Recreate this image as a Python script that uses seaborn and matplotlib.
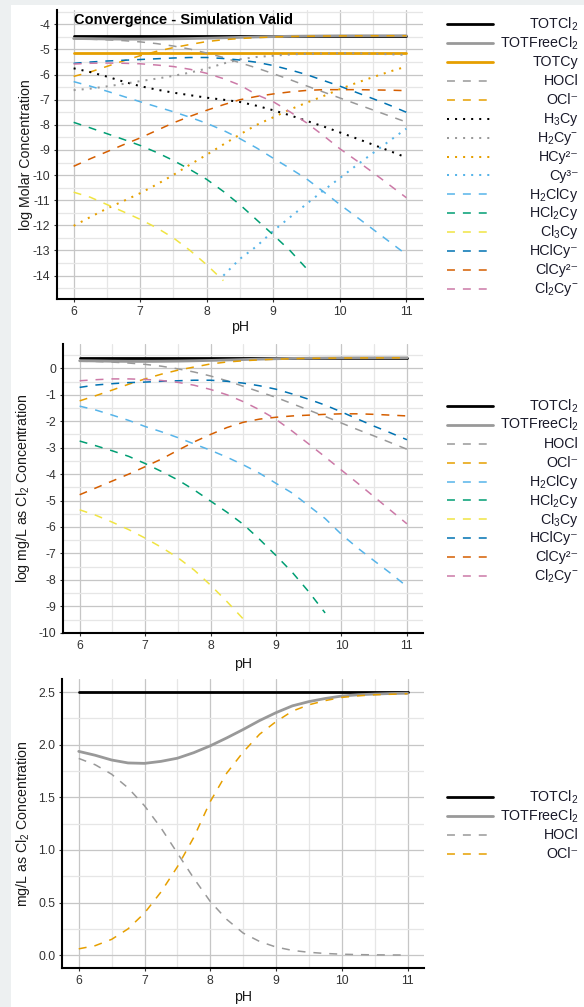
import numpy as np
import pandas as pd
import matplotlib
matplotlib.use("Agg")
import matplotlib.pyplot as plt
from matplotlib.patches import Rectangle
from matplotlib.ticker import MultipleLocator, FormatStrFormatter
import seaborn as sns

nan = np.nan

# pH grid shared by every series
ph = [6.0, 6.25, 6.5, 6.75, 7.0, 7.25, 7.5, 7.75, 8.0, 8.25, 8.5,
      8.75, 9.0, 9.25, 9.5, 9.75, 10.0, 10.25, 10.5, 10.75, 11.0]

# ---- panel 1 : log molar concentration ----
tot_cl2_M = [-4.45, -4.45, -4.45, -4.45, -4.45, -4.45, -4.45, -4.45, -4.45, -4.45, -4.45,
             -4.45, -4.45, -4.45, -4.45, -4.45, -4.45, -4.45, -4.45, -4.45, -4.45]
tot_free_M = [-4.564, -4.572, -4.582, -4.589, -4.590, -4.585, -4.578, -4.566, -4.552, -4.536, -4.519,
              -4.502, -4.488, -4.476, -4.469, -4.463, -4.459, -4.457, -4.456, -4.455, -4.454]
tot_cy_M = [-5.13, -5.13, -5.13, -5.13, -5.13, -5.13, -5.13, -5.13, -5.13, -5.13, -5.13,
            -5.13, -5.13, -5.13, -5.13, -5.13, -5.13, -5.13, -5.13, -5.13, -5.13]
hocl_M = [-4.579, -4.593, -4.615, -4.649, -4.698, -4.768, -4.864, -4.987, -5.143, -5.319, -5.529,
          -5.737, -5.964, -6.2, -6.45, -6.69, -6.93, -7.17, -7.41, -7.65, -7.89]
ocl_M = [-6.073, -5.897, -5.675, -5.453, -5.249, -5.073, -4.926, -4.801, -4.686, -4.613, -4.565,
         -4.529, -4.504, -4.485, -4.474, -4.467, -4.461, -4.459, -4.457, -4.456, -4.455]
h3cy_M = [-5.75, -5.9, -6.08, -6.28, -6.46, -6.6, -6.72, -6.82, -6.92, -7.0, -7.09,
          -7.24, -7.42, -7.62, -7.84, -8.06, -8.3, -8.54, -8.79, -9.04, -9.3]
h2cy_M = [-6.62, -6.56, -6.47, -6.37, -6.26, -6.16, -6.05, -5.92, -5.76, -5.56, -5.39,
          -5.3, -5.25, -5.2, -5.17, -5.16, -5.15, -5.15, -5.17, -5.19, -5.22]
hcy_M = [-12.02, -11.67, -11.33, -11.03, -10.72, -10.37, -9.99, -9.58, -9.19, -8.78, -8.38,
         -8.0, -7.7, -7.39, -7.12, -6.86, -6.58, -6.33, -6.1, -5.88, -5.68]
cy_M = [nan, nan, nan, nan, nan, nan, nan, nan, nan, -14.0, -13.33,
        -12.83, -12.22, -11.68, -11.15, -10.62, -10.12, -9.61, -9.12, -8.63, -8.15]
h2clcy_M = [-6.28, -6.46, -6.66, -6.87, -7.08, -7.28, -7.48, -7.7, -7.94, -8.22, -8.55,
            -8.92, -9.33, -9.73, -10.15, -10.65, -11.17, -11.66, -12.16, -12.66, -13.16]
hcl2cy_M = [-7.9, -8.12, -8.35, -8.58, -8.82, -9.1, -9.42, -9.78, -10.17, -10.65, -11.18,
            -11.78, -12.38, -13.0, -13.72, nan, nan, nan, nan, nan, nan]
cl3cy_M = [-10.68, -10.88, -11.17, -11.46, -11.76, -12.1, -12.5, -13.0, -13.57, -14.2, nan,
           nan, nan, nan, nan, nan, nan, nan, nan, nan, nan]
hclcy_M = [-5.55, -5.5, -5.46, -5.43, -5.4, -5.37, -5.34, -5.32, -5.32, -5.36, -5.42,
           -5.51, -5.64, -5.81, -6.0, -6.23, -6.46, -6.71, -6.96, -7.22, -7.5]
clcy_M = [-9.65, -9.35, -9.07, -8.79, -8.52, -8.22, -7.92, -7.66, -7.42, -7.2, -7.0,
          -6.87, -6.77, -6.69, -6.63, -6.6, -6.6, -6.6, -6.61, -6.62, -6.64]
cl2cy_M = [-5.58, -5.55, -5.54, -5.55, -5.57, -5.62, -5.68, -5.79, -5.95, -6.16, -6.42,
           -6.8, -7.08, -7.48, -7.92, -8.42, -8.95, -9.42, -9.9, -10.4, -10.9]

# ---- panel 2 : log mg/L as Cl2 ----
tot_cl2_L = [0.4, 0.4, 0.4, 0.4, 0.4, 0.4, 0.4, 0.4, 0.4, 0.4, 0.4,
             0.4, 0.4, 0.4, 0.4, 0.4, 0.4, 0.4, 0.4, 0.4, 0.4]
tot_free_L = [0.287, 0.279, 0.268, 0.262, 0.261, 0.265, 0.272, 0.284, 0.299, 0.315, 0.331,
              0.348, 0.363, 0.375, 0.382, 0.387, 0.392, 0.394, 0.395, 0.396, 0.396]
hocl_L = [0.27, 0.26, 0.235, 0.2, 0.15, 0.08, -0.02, -0.14, -0.29, -0.47, -0.68,
          -0.89, -1.1, -1.34, -1.58, -1.82, -2.07, -2.32, -2.56, -2.81, -3.06]
ocl_L = [-1.23, -1.03, -0.82, -0.6, -0.4, -0.22, -0.07, 0.05, 0.165, 0.24, 0.285,
         0.32, 0.346, 0.365, 0.377, 0.384, 0.389, 0.392, 0.394, 0.395, 0.396]
h2clcy_L = [-1.43, -1.58, -1.77, -1.97, -2.2, -2.4, -2.62, -2.86, -3.1, -3.36, -3.65,
            -3.97, -4.35, -4.72, -5.2, -5.68, -6.28, -6.8, -7.28, -7.75, -8.25]
hcl2cy_L = [-2.75, -2.93, -3.12, -3.33, -3.6, -3.9, -4.22, -4.6, -5.02, -5.44, -5.9,
            -6.47, -7.08, -7.72, -8.45, -9.25, nan, nan, nan, nan, nan]
cl3cy_L = [-5.35, -5.56, -5.82, -6.1, -6.42, -6.77, -7.16, -7.63, -8.2, -8.82, -9.48,
           nan, nan, nan, nan, nan, nan, nan, nan, nan, nan]
hclcy_L = [-0.72, -0.63, -0.58, -0.54, -0.52, -0.49, -0.47, -0.45, -0.45, -0.49, -0.56,
           -0.66, -0.79, -0.97, -1.17, -1.39, -1.65, -1.92, -2.19, -2.44, -2.7]
clcy_L = [-4.78, -4.52, -4.26, -4.0, -3.72, -3.43, -3.1, -2.78, -2.5, -2.24, -2.04,
          -1.92, -1.85, -1.8, -1.77, -1.74, -1.72, -1.72, -1.74, -1.77, -1.8]
cl2cy_L = [-0.47, -0.43, -0.4, -0.4, -0.42, -0.46, -0.53, -0.64, -0.8, -1.0, -1.26,
           -1.57, -1.93, -2.38, -2.86, -3.35, -3.85, -4.35, -4.86, -5.37, -5.88]

# ---- panel 3 : mg/L as Cl2 ----
tot_cl2_mg = [2.5, 2.5, 2.5, 2.5, 2.5, 2.5, 2.5, 2.5, 2.5, 2.5, 2.5,
              2.5, 2.5, 2.5, 2.5, 2.5, 2.5, 2.5, 2.5, 2.5, 2.5]
tot_free_mg = [1.937, 1.90, 1.855, 1.827, 1.823, 1.842, 1.872, 1.925, 1.99, 2.065, 2.145,
               2.23, 2.305, 2.37, 2.41, 2.44, 2.463, 2.475, 2.482, 2.487, 2.49]
hocl_mg = [1.87, 1.81, 1.72, 1.59, 1.42, 1.21, 0.97, 0.73, 0.51, 0.34, 0.21,
           0.13, 0.077, 0.045, 0.027, 0.016, 0.009, 0.005, 0.003, 0.0017, 0.001]
ocl_mg = [0.06, 0.09, 0.15, 0.25, 0.40, 0.60, 0.84, 1.12, 1.46, 1.73, 1.93,
          2.10, 2.22, 2.32, 2.38, 2.42, 2.45, 2.465, 2.475, 2.48, 2.485]

# ---- species styling ----
labels = {
    "TOTCl2": r"TOTCl$_2$", "TOTFreeCl2": r"TOTFreeCl$_2$", "TOTCy": "TOTCy",
    "HOCl": "HOCl", "OCl-": "OCl\u207b", "H3Cy": r"H$_3$Cy", "H2Cy-": r"H$_2$Cy$^{-}$",
    "HCy2-": "HCy\u00b2\u207b", "Cy3-": "Cy\u00b3\u207b", "H2ClCy": r"H$_2$ClCy",
    "HCl2Cy": r"HCl$_2$Cy", "Cl3Cy": r"Cl$_3$Cy", "HClCy-": "HClCy\u207b",
    "ClCy2-": "ClCy\u00b2\u207b", "Cl2Cy-": r"Cl$_2$Cy$^{-}$",
}
colors = {
    "TOTCl2": "#000000", "TOTFreeCl2": "#999999", "TOTCy": "#E69F00",
    "HOCl": "#999999", "OCl-": "#E69F00", "H3Cy": "#000000", "H2Cy-": "#999999",
    "HCy2-": "#E69F00", "Cy3-": "#56B4E9", "H2ClCy": "#56B4E9", "HCl2Cy": "#009E73",
    "Cl3Cy": "#F0E442", "HClCy-": "#0072B2", "ClCy2-": "#D55E00", "Cl2Cy-": "#CC79A7",
}
kind = {
    "TOTCl2": "solid", "TOTFreeCl2": "solid", "TOTCy": "solid",
    "HOCl": "dashed", "OCl-": "dashed", "H3Cy": "dotted", "H2Cy-": "dotted",
    "HCy2-": "dotted", "Cy3-": "dotted", "H2ClCy": "dashed", "HCl2Cy": "dashed",
    "Cl3Cy": "dashed", "HClCy-": "dashed", "ClCy2-": "dashed", "Cl2Cy-": "dashed",
}
dash_of = {"solid": "", "dashed": (5.2, 5.2), "dotted": (1, 3)}
width_of = {"solid": 2.0, "dashed": 1.1, "dotted": 1.45}

panel1 = {"TOTCl2": tot_cl2_M, "TOTFreeCl2": tot_free_M, "TOTCy": tot_cy_M,
          "HOCl": hocl_M, "OCl-": ocl_M, "H3Cy": h3cy_M, "H2Cy-": h2cy_M,
          "HCy2-": hcy_M, "Cy3-": cy_M, "H2ClCy": h2clcy_M, "HCl2Cy": hcl2cy_M,
          "Cl3Cy": cl3cy_M, "HClCy-": hclcy_M, "ClCy2-": clcy_M, "Cl2Cy-": cl2cy_M}
panel2 = {"TOTCl2": tot_cl2_L, "TOTFreeCl2": tot_free_L, "HOCl": hocl_L, "OCl-": ocl_L,
          "H2ClCy": h2clcy_L, "HCl2Cy": hcl2cy_L, "Cl3Cy": cl3cy_L,
          "HClCy-": hclcy_L, "ClCy2-": clcy_L, "Cl2Cy-": cl2cy_L}
panel3 = {"TOTCl2": tot_cl2_mg, "TOTFreeCl2": tot_free_mg, "HOCl": hocl_mg, "OCl-": ocl_mg}

# ---- theme ----
sns.set_style("whitegrid")
plt.rcParams["font.family"] = ["Liberation Sans", "DejaVu Sans"]
plt.rcParams["mathtext.fontset"] = "custom"
plt.rcParams["mathtext.rm"] = "Liberation Sans"
plt.rcParams["mathtext.it"] = "Liberation Sans:italic"
plt.rcParams["mathtext.bf"] = "Liberation Sans:bold"
plt.rcParams["mathtext.default"] = "regular"
plt.rcParams["axes.unicode_minus"] = False

W, H = 584, 1007
fig = plt.figure(figsize=(W / 100, H / 100), dpi=100, facecolor="#edf0f1")
fig.add_artist(Rectangle((11 / W, 0), 1 - 11 / W, 1 - 5 / H, transform=fig.transFigure,
                         facecolor="white", edgecolor="none", zorder=-10))

LEG_FS = 10.3


def px_axes(left, top, right, bottom):
    return fig.add_axes([left / W, 1 - bottom / H, (right - left) / W, (bottom - top) / H])


def draw_panel(ax, series, ylim, ystep, yfmt, ylabel, ylab_x, xlab_y, leg_top):
    names = list(series.keys())
    df = pd.DataFrame({"pH": ph, **series})
    long = df.melt(id_vars="pH", var_name="species", value_name="value")
    sns.lineplot(data=long, x="pH", y="value", hue="species", style="species", size="species",
                 hue_order=names, style_order=names, size_order=names,
                 palette={n: colors[n] for n in names},
                 dashes={n: dash_of[kind[n]] for n in names},
                 sizes={n: width_of[kind[n]] for n in names},
                 estimator=None, errorbar=None, legend=False, ax=ax)
    ax.set_xlim(5.75, 11.25)
    ax.set_ylim(*ylim)
    ax.xaxis.set_major_locator(MultipleLocator(1))
    ax.xaxis.set_minor_locator(MultipleLocator(0.5))
    ax.xaxis.set_major_formatter(FormatStrFormatter("%d"))
    ax.yaxis.set_major_locator(MultipleLocator(ystep))
    ax.yaxis.set_minor_locator(MultipleLocator(ystep / 2))
    ax.yaxis.set_major_formatter(FormatStrFormatter(yfmt))
    ax.set_axisbelow(True)
    ax.grid(True, which="major", color="#c6c6c6", linewidth=0.9)
    ax.grid(True, which="minor", color="#e6e6e6", linewidth=0.9)
    for s in ["top", "right"]:
        ax.spines[s].set_visible(False)
    for s in ["left", "bottom"]:
        ax.spines[s].set_color("black")
        ax.spines[s].set_linewidth(1.5)
    ax.tick_params(which="major", length=2.5, width=0.8, color="#333333",
                   labelsize=8.8, labelcolor="#333333", pad=2.5,
                   left=True, bottom=True)
    ax.tick_params(which="minor", length=0)
    ax.set_xlabel("pH", fontsize=10.2, color="#1a1a1a")
    ax.set_ylabel(ylabel, fontsize=10.2, color="#1a1a1a")
    ax.xaxis.set_label_coords(0.5, xlab_y)
    ax.yaxis.set_label_coords(ylab_x, 0.5)
    # tall handle boxes with negative spacing give an even row pitch of ~18.9 px
    leg = ax.legend(handles=list(ax.get_lines()), labels=[labels[n] for n in names],
                    loc="upper left", bbox_to_anchor=(447 / W, 1 - leg_top / H),
                    bbox_transform=fig.transFigure, frameon=False, fontsize=LEG_FS,
                    handlelength=3.21, handleheight=2.2, handletextpad=0.5,
                    labelspacing=-0.354, borderpad=0, borderaxespad=0,
                    labelcolor="#1a1a2a")
    # bring the key lines down to the middle of the label text
    for ln in leg.get_lines():
        ln.set_ydata(np.asarray(ln.get_ydata()) - 2.9)
    return leg


ax1 = px_axes(57, 10, 423, 299)
leg1 = draw_panel(ax1, panel1, (-14.93, -3.43), 1, "%g", "log Molar Concentration",
                  -0.0669, -0.073, 12.0)
ax1.text(6.0, -3.81, "Convergence - Simulation Valid", fontsize=10.5, fontweight="bold",
         ha="left", va="center", color="black")

ax2 = px_axes(63.3, 344, 423.3, 633.3)
leg2 = draw_panel(ax2, panel2, (-10.02, 0.92), 1, "%g", r"log mg/L as Cl$_2$ Concentration",
                  -0.0856, -0.082, 393.7)

ax3 = px_axes(62.3, 679, 424, 968.3)
leg3 = draw_panel(ax3, panel3, (-0.125, 2.625), 0.5, "%.1f", r"mg/L as Cl$_2$ Concentration",
                  -0.0824, -0.075, 785.0)

# right-align legend labels like the original
fig.canvas.draw()
for leg in (leg1, leg2, leg3):
    texts = leg.get_texts()
    widths = [t.get_window_extent().width for t in texts]
    wmax = max(widths)
    for t, w in zip(texts, widths):
        t.set_x(wmax - w)

fig.savefig("out.png", dpi=100, facecolor=fig.get_facecolor())
